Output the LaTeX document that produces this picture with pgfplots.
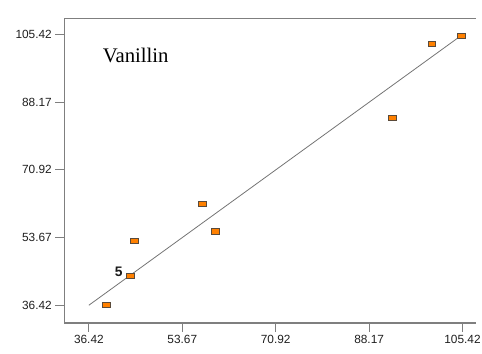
\documentclass[border=0pt]{standalone}
\usepackage{pgfplots}
\pgfplotsset{compat=1.18}
\usepackage{fontspec}
\setmainfont{Liberation Sans}
\newfontfamily\seriffont{Liberation Serif}

\definecolor{spine}{HTML}{7F7F7F}
\definecolor{markfill}{HTML}{FF8000}
\definecolor{markedge}{HTML}{5A4A3A}

% small flat rectangle used as the data marker
\pgfdeclareplotmark{flatrect}{%
  \pgfpathrectangle{\pgfpoint{-4pt}{-2.6pt}}{\pgfpoint{8pt}{5.2pt}}%
  \pgfusepathqfillstroke}

\begin{document}
\begin{tikzpicture}
\path[use as bounding box] (-65pt,-31pt) rectangle (423pt,327pt);
\begin{axis}[
  scale only axis,
  width=417pt, height=308pt,
  xmin=31.86, xmax=107.92,
  ymin=31.89, ymax=109.45,
  axis x line=bottom, axis y line=left,
  axis line style={-, draw=spine, line width=1.2pt},
  xtick={36.42,53.67,70.92,88.17,105.42},
  ytick={36.42,53.67,70.92,88.17,105.42},
  xticklabels={36.42,53.67,70.92,88.17,105.42},
  yticklabels={36.42,53.67,70.92,88.17,105.42},
  tick align=outside,
  major tick length=9pt,
  tick style={draw=spine, line width=1pt},
  ticklabel style={font=\fontsize{12}{14}\selectfont, text=black!88},
  /pgf/number format/assume math mode=true,
  clip=false,
]
  \draw[draw=spine, line width=1.2pt] (rel axis cs:0,1) -- (rel axis cs:1,1);

  % ideal agreement line
  \addplot[draw=gray!90!black, line width=0.8pt, no marks]
    coordinates {(36.42,36.42) (105.17,105.17)};

  % observed runs
  \addplot[only marks, mark=flatrect,
    mark options={fill=markfill, draw=markedge, line width=0.7pt}]
    coordinates {
      (39.70,36.42)
      (44.02,43.90)
      (44.75,52.79)
      (57.45,62.19)
      (59.82,55.24)
      (92.40,84.28)
      (99.75,103.10)
      (105.17,105.11)
    };

  \node[anchor=east, inner sep=0pt, xshift=-7.5pt, yshift=3.8pt,
        font=\bfseries\fontsize{14}{16}\selectfont, text=black!90]
    at (axis cs:44.02,43.90) {5};

  \node[anchor=base west, inner sep=0pt, font=\seriffont\fontsize{21}{24}\selectfont]
    at (axis cs:38.97,98.37) {Vanillin};
\end{axis}
\end{tikzpicture}
\end{document}
